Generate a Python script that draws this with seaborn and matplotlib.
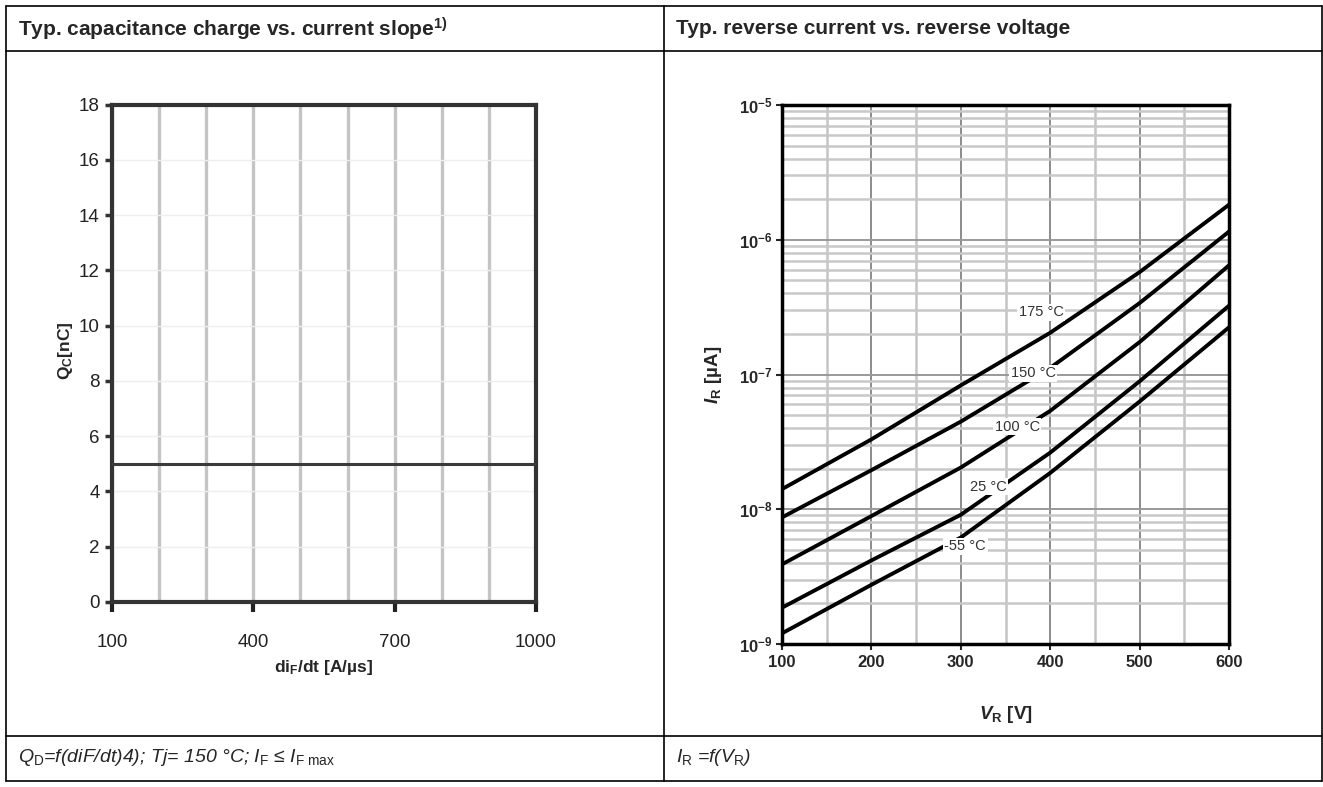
import numpy as np
import pandas as pd
import matplotlib
matplotlib.use("Agg")
import matplotlib.pyplot as plt
import matplotlib.ticker as mticker
from matplotlib.lines import Line2D
import seaborn as sns

# ---- data ----
didt = [100, 1000]
qc = [5, 5]

vr = [100, 200, 300, 400, 500, 600]
ir_175 = [1.41e-8, 3.3e-8, 8.3e-8, 2.04e-7, 5.75e-7, 1.82e-6]
ir_150 = [8.7e-9, 1.95e-8, 4.47e-8, 1.12e-7, 3.39e-7, 1.15e-6]
ir_100 = [3.9e-9, 8.9e-9, 2.04e-8, 5.37e-8, 1.74e-7, 6.46e-7]
ir_25 = [1.86e-9, 4.17e-9, 9.1e-9, 2.63e-8, 8.9e-8, 3.24e-7]
ir_m55 = [1.2e-9, 2.75e-9, 6.17e-9, 1.86e-8, 6.3e-8, 2.24e-7]
temps = ["175 °C", "150 °C", "100 °C", "25 °C", "-55 °C"]

label_v = [390, 381, 363, 331, 305]
label_i = [2.9e-7, 1.02e-7, 4.1e-8, 1.47e-8, 5.3e-9]

W, H = 1323, 787

sns.set_style("white")
plt.rcParams['font.family'] = ['Liberation Sans', 'DejaVu Sans']
plt.rcParams['mathtext.fontset'] = 'custom'
plt.rcParams['mathtext.rm'] = 'Liberation Sans'
plt.rcParams['mathtext.it'] = 'Liberation Sans:italic'
plt.rcParams['mathtext.bf'] = 'Liberation Sans:bold'
plt.rcParams['mathtext.bfit'] = 'Liberation Sans:italic:bold'


def fx(px):
    return px / W


def fy(py):
    return 1 - py / H


fig = plt.figure(figsize=(W / 100, H / 100), dpi=100)

# ---- table frame ----
lc = dict(color='black', lw=1.2)
for y in (6, 51, 736, 781):
    fig.add_artist(Line2D([fx(6), fx(1322)], [fy(y), fy(y)], **lc))
for x in (6, 664, 1322):
    fig.add_artist(Line2D([fx(x), fx(x)], [fy(6), fy(781)], **lc))

fig.text(fx(18), fy(29), r'Typ. capacitance charge vs. current slope$^\mathbf{1)}$',
         fontsize=15, fontweight='bold', va='center', ha='left')
fig.text(fx(676), fy(29), 'Typ. reverse current vs. reverse voltage',
         fontsize=15, fontweight='bold', va='center', ha='left')
fig.text(fx(18), fy(758), r'$Q_\mathrm{D}$=f(diF/dt)4); Tj= 150 °C; $I_\mathrm{F}$ ≤ $I_\mathrm{F\ max}$',
         fontsize=14, style='italic', va='center', ha='left')
fig.text(fx(676), fy(758), r'$I_\mathrm{R}$ =f($V_\mathrm{R}$)',
         fontsize=14, style='italic', va='center', ha='left')

# ---- left chart: Qc vs diF/dt ----
ax1 = fig.add_axes([fx(112), fy(602), fx(536 - 112), (602 - 104.5) / H])
df1 = pd.DataFrame({'didt': didt, 'qc': qc})
sns.lineplot(data=df1, x='didt', y='qc', ax=ax1, color='#3a3a3a', lw=2.2, zorder=3)
ax1.set_xlim(100, 1000)
ax1.set_ylim(0, 18)
ax1.set_xticks([100, 400, 700, 1000])
ax1.xaxis.remove_overlapping_locs = False
ax1.xaxis.set_minor_locator(mticker.MultipleLocator(100))
ax1.set_yticks(range(0, 19, 2))
ax1.set_axisbelow(True)
ax1.grid(False)
ax1.grid(axis='x', which='minor', color='#c4c4c4', lw=2.4)
ax1.grid(axis='y', which='major', color='#eeeeee', lw=1)
for s in ax1.spines.values():
    s.set_color('#333333')
    s.set_linewidth(3)
ax1.tick_params(axis='y', which='major', left=True, length=5, width=2.5, color='#333333',
                pad=4, labelsize=13.5, labelcolor='#222222')
ax1.tick_params(axis='x', which='major', bottom=True, length=7, width=3, color='#222222',
                pad=16, labelsize=13.5, labelcolor='#222222')
ax1.tick_params(axis='x', which='minor', length=0)
ax1.set_xlabel(r'di$_\mathbf{F}$/dt [A/µs]', fontsize=12.5, fontweight='bold')
ax1.set_ylabel(r'Q$_\mathbf{C}$[nC]', fontsize=12.5, fontweight='bold')
ax1.xaxis.set_label_coords(0.5, -0.113)
ax1.yaxis.set_label_coords(-0.087, 0.506)

# ---- right chart: IR vs VR ----
ax2 = fig.add_axes([fx(782), fy(644), fx(1229 - 782), (644 - 105) / H])
df2 = pd.DataFrame({'vr': vr * 5,
                    'ir': ir_175 + ir_150 + ir_100 + ir_25 + ir_m55,
                    'T': [t for t in temps for _ in vr]})
sns.lineplot(data=df2, x='vr', y='ir', hue='T', palette=['black'] * 5, ax=ax2,
             lw=2.8, legend=False, zorder=3)
ax2.set_yscale('log')
ax2.set_xlim(100, 600)
ax2.set_ylim(1e-9, 1e-5)
ax2.set_xticks([100, 200, 300, 400, 500, 600])
ax2.xaxis.set_minor_locator(mticker.MultipleLocator(50))
ax2.yaxis.set_major_locator(mticker.LogLocator(base=10, numticks=10))
ax2.yaxis.set_minor_locator(mticker.LogLocator(base=10, subs=np.arange(2, 10), numticks=20))
ax2.yaxis.set_minor_formatter(mticker.NullFormatter())
ax2.set_yticks([1e-9, 1e-8, 1e-7, 1e-6, 1e-5])
ax2.set_yticklabels([r'$\mathbf{10^{%d}}$' % e for e in (-9, -8, -7, -6, -5)])
ax2.set_axisbelow(True)
ax2.grid(False)
ax2.grid(axis='x', which='major', color='#8c8c8c', lw=1.4)
ax2.grid(axis='x', which='minor', color='#c4c4c4', lw=1.8)
ax2.grid(axis='y', which='major', color='#999999', lw=1.4)
ax2.grid(axis='y', which='minor', color='#c8c8c8', lw=1.8)
for s in ax2.spines.values():
    s.set_color('black')
    s.set_linewidth(2.5)
ax2.tick_params(axis='both', which='minor', length=0)
ax2.tick_params(axis='y', which='major', left=True, length=4, width=1.5, pad=3,
                labelsize=12)
ax2.tick_params(axis='x', which='major', bottom=True, length=4, width=1.5, pad=4,
                labelsize=12)
for lab in ax2.get_xticklabels():
    lab.set_fontweight('bold')
ax2.set_xlabel(r'$\mathbfit{V}_\mathbf{R}$ [V]', fontsize=13.5, fontweight='bold')
ax2.set_ylabel(r'$\mathbfit{I}_\mathbf{R}$ [µA]', fontsize=13.5, fontweight='bold')
ax2.xaxis.set_label_coords(0.5, -0.112)
ax2.yaxis.set_label_coords(-0.13, 0.5)

for t, xv, yv in zip(temps, label_v, label_i):
    ax2.text(xv, yv, t, fontsize=10.5, color='#333333', ha='center', va='center',
             zorder=5, bbox=dict(facecolor='white', edgecolor='none', pad=1.2))

fig.savefig('out.png', dpi=100)
